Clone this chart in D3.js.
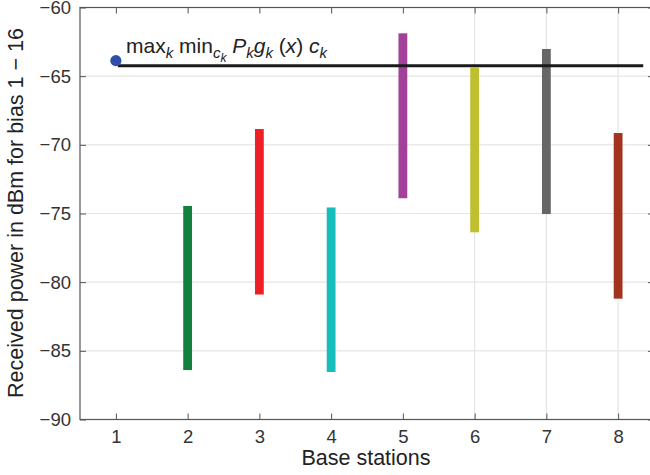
<!DOCTYPE html>
<html>
<head>
<meta charset="utf-8">
<script src="https://cdn.jsdelivr.net/npm/d3@7"></script>
<style>
  html, body { margin: 0; padding: 0; background: #fff; }
  svg { display: block; font-family: "Liberation Sans", Arial, Helvetica, sans-serif; }
</style>
</head>
<body>
<svg id="chart" width="650" height="475"></svg>
<script>
// Received power range (dBm) per base station over bias 1–16
const stations = [2, 3, 4, 5, 6, 7, 8];
const powerTop = [-74.45, -68.85, -74.56, -61.88, -64.38, -63.02, -69.14];
const powerBottom = [-86.40, -80.90, -86.54, -73.89, -76.37, -75.04, -81.20];
const barColors = ["#138040", "#ee1f26", "#17bdbb", "#a3409a", "#c0bf2f", "#666666", "#a0341f"];

// max-min reference level and its marker
const refLevel = -64.24;
const refSpan = [1, 8.35];
const markerStation = 1;
const markerValue = -63.87;

const xTicks = [1, 2, 3, 4, 5, 6, 7, 8];
const yTicks = [-90, -85, -80, -75, -70, -65, -60];
const xGridTicks = [6, 7, 8];
const yGridTicks = [-85, -80, -75, -70, -65];

const svg = d3.select("#chart");
const plotL = 80, plotR = 654, plotT = 7.5, plotB = 419.5;

const x = d3.scaleLinear().domain([0.5, 8.5]).range([plotL, plotR]);
const y = d3.scaleLinear().domain([-90, -60]).range([plotB, plotT]);

// grid
const grid = svg.append("g").attr("stroke", "#e5e5e5").attr("stroke-width", 1.2);
grid.selectAll("line.h").data(yGridTicks).join("line").attr("class", "h")
  .attr("x1", plotL).attr("x2", plotR)
  .attr("y1", d => y(d)).attr("y2", d => y(d));
grid.selectAll("line.v").data(xGridTicks).join("line").attr("class", "v")
  .attr("y1", plotT).attr("y2", plotB)
  .attr("x1", d => x(d)).attr("x2", d => x(d));

// bars
svg.append("g").selectAll("rect").data(stations).join("rect")
  .attr("x", d => x(d) - 4.4)
  .attr("width", 8.8)
  .attr("y", (d, i) => y(powerTop[i]))
  .attr("height", (d, i) => y(powerBottom[i]) - y(powerTop[i]))
  .attr("fill", (d, i) => barColors[i]);

// reference line
svg.append("line")
  .attr("x1", x(refSpan[0]) + 2).attr("x2", x(refSpan[1]))
  .attr("y1", y(refLevel)).attr("y2", y(refLevel))
  .attr("stroke", "#1a1a1a").attr("stroke-width", 3);

svg.append("circle")
  .attr("cx", x(markerStation)).attr("cy", y(markerValue)).attr("r", 5.6)
  .attr("fill", "#2f4fa8");

// axes (ticks pointing inward, box frame)
const axisColor = "#555";
const tickColor = "#333";
const fontSize = 18.5;

svg.append("g").attr("transform", `translate(0,${plotB})`)
  .call(d3.axisBottom(x).tickValues(xTicks).tickSize(-6).tickPadding(10.5).tickFormat(d3.format("d")))
  .call(g => {
    g.select(".domain").remove();
    g.selectAll("line").attr("stroke", axisColor);
    g.selectAll("text").attr("fill", tickColor).attr("font-size", fontSize);
  });
svg.append("g").attr("transform", `translate(0,${plotT})`)
  .call(d3.axisTop(x).tickValues(xTicks).tickSize(-6).tickFormat(""))
  .call(g => { g.select(".domain").remove(); g.selectAll("line").attr("stroke", axisColor); });

svg.append("g").attr("transform", `translate(${plotL},0)`)
  .call(d3.axisLeft(y).tickValues(yTicks).tickSize(-6).tickPadding(9)
    .tickFormat(d => String(d).replace("-", "\u2212")))
  .call(g => {
    g.select(".domain").remove();
    g.selectAll("line").attr("stroke", axisColor);
    g.selectAll("text").attr("fill", tickColor).attr("font-size", fontSize);
  });
svg.append("g").attr("transform", `translate(${plotR},0)`)
  .call(d3.axisRight(y).tickValues(yTicks).tickSize(-6).tickFormat(""))
  .call(g => { g.select(".domain").remove(); g.selectAll("line").attr("stroke", axisColor); });

svg.append("rect")
  .attr("x", plotL).attr("y", plotT).attr("width", plotR - plotL).attr("height", plotB - plotT)
  .attr("fill", "none").attr("stroke", axisColor).attr("stroke-width", 1.2);

// axis titles
svg.append("text")
  .attr("x", 366).attr("y", 465)
  .attr("text-anchor", "middle").attr("font-size", 21.5).attr("fill", "#222")
  .text("Base stations");

svg.append("text")
  .attr("transform", `translate(23,213) rotate(-90)`)
  .attr("text-anchor", "middle").attr("font-size", 21.5).attr("fill", "#222")
  .text("Received power in dBm for bias 1 \u2212 16");

// annotation: max_k min_{c_k} P_k g_k (x) c_k
const ann = svg.append("text")
  .attr("x", 126).attr("y", 53)
  .attr("font-size", 21).attr("fill", "#222");
const parts = [
  { t: "max" },
  { t: "k", i: true, s: 1 },
  { t: " min" },
  { t: "c", i: true, s: 1 },
  { t: "k", i: true, s: 2 },
  { t: " " },
  { t: "P", i: true },
  { t: "k", i: true, s: 1 },
  { t: "g", i: true },
  { t: "k", i: true, s: 1 },
  { t: " (" },
  { t: "x", i: true },
  { t: ") " },
  { t: "c", i: true },
  { t: "k", i: true, s: 1 }
];
let level = 0;
const shift = { 0: 0, 1: 5, 2: 9 };
parts.forEach(p => {
  const s = p.s || 0;
  ann.append("tspan")
    .attr("dy", shift[s] - shift[level])
    .attr("font-style", p.i ? "italic" : "normal")
    .attr("font-size", s === 0 ? 21 : (s === 1 ? 15 : 12))
    .text(p.t);
  level = s;
});
</script>
</body>
</html>
